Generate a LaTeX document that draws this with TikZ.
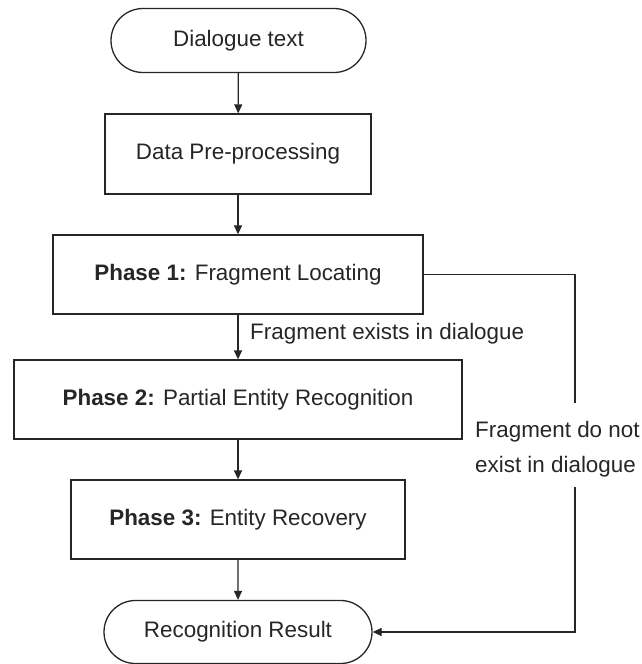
\documentclass[tikz,border=0pt]{standalone}
\usepackage{fontspec}
\setmainfont{Liberation Sans}
\usetikzlibrary{shapes.misc,arrows.meta}
\begin{document}
\begin{tikzpicture}[x=1pt,y=-1pt,
  every node/.style={font=\fontsize{22.4}{27}\selectfont, text=black!85},
  term/.style={draw=black!85, line width=1.3pt, rounded rectangle, minimum height=64pt, inner sep=0pt},
  procbox/.style={draw=black!85, line width=1.3pt, rectangle, minimum height=79pt, inner sep=0pt},
  conn/.style={draw=black!85, line width=1.3pt},
  arr/.style={conn, -{Triangle[length=9pt,width=8pt]}}
]
\useasboundingbox (0,0) rectangle (641,664);
\node[term, minimum width=255pt] (start) at (238.5,40.5) {Dialogue text};
\node[procbox, minimum width=266pt, minimum height=80pt] (data) at (238,154) {Data Pre-processing};
\node[procbox, minimum width=370pt] (p1) at (238,274.5) {\textbf{Phase 1:} Fragment Locating};
\node[procbox, minimum width=448pt] (p2) at (238,399.5) {\textbf{Phase 2:} Partial Entity Recognition};
\node[procbox, minimum width=334pt] (p3) at (238,519.5) {\textbf{Phase 3:} Entity Recovery};
\node[term, minimum width=268pt, minimum height=63pt] (end) at (238,632) {Recognition Result};
\node[anchor=west, inner sep=0pt] (lblyes) at (250,334) {Fragment exists in dialogue};
\node[anchor=west, inner sep=0pt, align=left] (lblno) at (475,449) {Fragment do not\\[8pt]exist in dialogue};
\coordinate (c1) at (575,403);
\coordinate (c2) at (575,487);
\draw[arr] (start) -- (data);
\draw[arr] (data) -- (p1);
\draw[arr] (p1) -- (p2);
\draw[arr] (p2) -- (p3);
\draw[arr] (p3) -- (end);
\draw[conn] (p1.east) -| (c1);
\draw[arr] (c2) |- (end.east);
\end{tikzpicture}
\end{document}
